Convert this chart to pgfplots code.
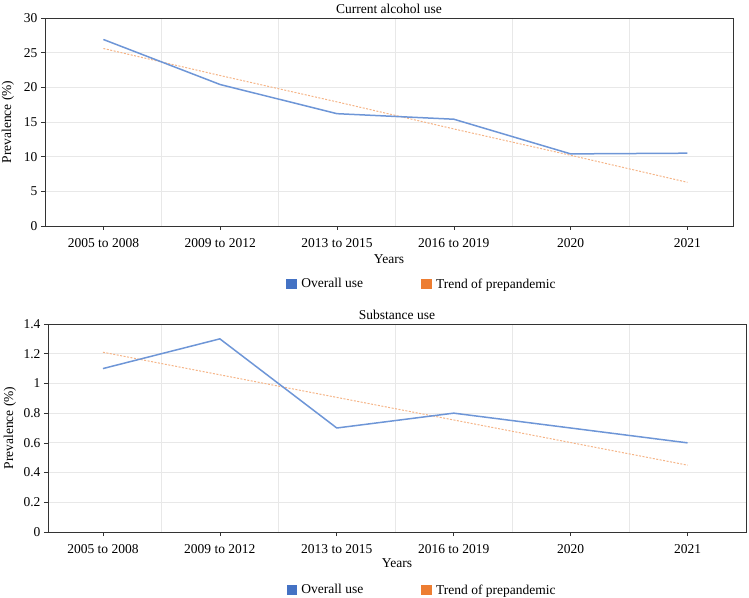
\documentclass[border=0pt]{standalone}
\usepackage{fontspec}
\setmainfont{Liberation Serif}
\usepackage{pgfplots}
\pgfplotsset{compat=1.18}

\definecolor{lineblue}{RGB}{110,150,215}
\definecolor{lineorange}{RGB}{245,180,135}
\definecolor{legblue}{RGB}{68,114,196}
\definecolor{legorange}{RGB}{237,125,49}
\definecolor{gridgray}{RGB}{232,232,232}

\pgfplotsset{
  mystyle/.style={
    scale only axis, height=208pt,
    ymin=0,
    xtick={0,1,2,3,4,5},
    xticklabels={2005 to 2008, 2009 to 2012, 2013 to 2015, 2016 to 2019, 2020, 2021},
    minor xtick={0.5,1.5,2.5,3.5,4.5},
    xminorgrids, ymajorgrids,
    minor grid style={gridgray, line width=0.8pt},
    major grid style={gridgray, line width=0.8pt},
    tick align=outside, tick pos=left,
    major tick length=4pt, minor tick length=0pt,
    tick style={black!80, line width=0.6pt},
    axis line style={black!80, line width=0.8pt},
    font=\fontsize{13.5}{16}\selectfont,
    /pgf/number format/assume math mode=true,
    xticklabel style={yshift=-4.5pt},
    ylabel={Prevalence (\%)}, xlabel={Years},
    title style={at={(0.5,1)}, anchor=base, inner sep=0pt, yshift=-2pt},
    legend columns=2,
    legend cell align=left,
    legend style={draw=none, fill=none, anchor=center,
      /tikz/every even column/.append style={column sep=56pt}},
  },
  blueline/.style={lineblue, line width=1.5pt, line join=round, forget plot},
  trendline/.style={lineorange, line width=1pt, dash pattern=on 2pt off 1.5pt, forget plot},
}

\begin{document}
\begin{tikzpicture}
\useasboundingbox (0,0) rectangle (749pt,597pt);

\begin{axis}[mystyle,
  at={(45pt,371pt)}, anchor=south west,
  width=688pt, xmin=-0.5, xmax=5.39,
  ymax=30, ytick={0,5,10,15,20,25,30},
  title={Current alcohol use},
  ylabel style={at={(axis description cs:-0.0538,0.5)}, anchor=center},
  xlabel style={at={(axis description cs:0.5,-0.157)}, anchor=center},
  legend style={at={(0.548,-0.279)}},
]
\addlegendimage{legend image code/.code={\fill[legblue] (0pt,-4.5pt) rectangle (9.5pt,4.5pt); \path (12.5pt,0pt);}}
\addlegendentry{Overall use}
\addlegendimage{legend image code/.code={\fill[legorange] (0pt,-4.5pt) rectangle (9.5pt,4.5pt); \path (12.5pt,0pt);}}
\addlegendentry{Trend of prepandemic}
\addplot[trendline] coordinates {(0,25.6) (1,21.7) (2,17.9) (3,14.0) (4,10.2) (5,6.3)};
\addplot[blueline] coordinates {(0,26.9) (1,20.4) (2,16.2) (3,15.4) (4,10.4) (5,10.5)};
\end{axis}

\begin{axis}[mystyle,
  at={(48pt,65pt)}, anchor=south west,
  width=698pt, xmin=-0.47, xmax=5.5,
  ymax=1.4, ytick={0,0.2,0.4,0.6,0.8,1,1.2,1.4},
  title={Substance use},
  ylabel style={at={(axis description cs:-0.0545,0.5)}, anchor=center},
  xlabel style={at={(axis description cs:0.5,-0.152)}, anchor=center},
  legend style={at={(0.536,-0.279)}},
]
\addlegendimage{legend image code/.code={\fill[legblue] (0pt,-4.5pt) rectangle (9.5pt,4.5pt); \path (12.5pt,0pt);}}
\addlegendentry{Overall use}
\addlegendimage{legend image code/.code={\fill[legorange] (0pt,-4.5pt) rectangle (9.5pt,4.5pt); \path (12.5pt,0pt);}}
\addlegendentry{Trend of prepandemic}
\addplot[trendline] coordinates {(0,1.21) (1,1.058) (2,0.906) (3,0.754) (4,0.602) (5,0.45)};
\addplot[blueline] coordinates {(0,1.1) (1,1.3) (2,0.7) (3,0.8) (4,0.7) (5,0.6)};
\end{axis}
\end{tikzpicture}
\end{document}
